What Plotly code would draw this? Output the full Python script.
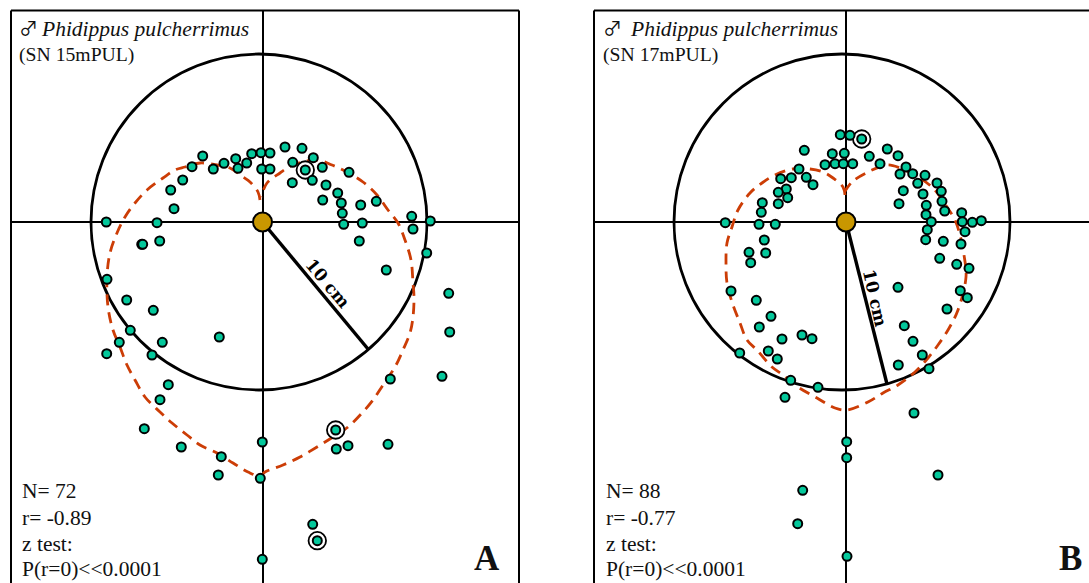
import plotly.graph_objects as go

# Offsets from the release point at the crossing of the axes (168 units = 10 cm circle radius)
a_x = [-59.8,-70.5,-79.8,-91.8,-88.5,-156.2,-105.5,-120.8,-119.8,-102.8,-155.5,-49.2,-38.5,-26.8,-24.5,-15.8,-10.8,-1.5,7.5,-0.8,7.5,22.5,39.5,50.8,30.2,42.8,59.8,49.8,29.8,63.5,86.5,75.2,60.2,78.8,98.2,113.8,79.8,81.2,99.8,149.2,167.8,150.5,96.8,164.2,123.8,-135.8,-109.2,-132.2,-43.2,-143.2,-100.2,-155.8,-110.5,-94.2,-102.5,-118.2,-81.2,-41.2,-44.2,-0.2,-2.2,-0.2,186.2,187.2,179.5,127.8,73.2,73.8,85.5,125.5,50.2,54.8]
a_y = [66,55.3,42,32,13.3,0,-0.7,-22.3,-22.3,-19,-57.3,53,58.7,63.3,53.7,59,68.3,69.3,69,53,53,75,73.7,64.3,59.7,52,54.7,41.7,39.3,37,49.7,29,22,19,17,20.7,8.7,-2.3,-1,5.7,1,-7,-19,-31,-48,-78,-88.3,-108.3,-115,-120.3,-120.3,-131.7,-133,-162.7,-177.7,-206.7,-225,-234.7,-253,-220,-256.3,-337.3,-71.3,-110,-154.3,-157,-208,-227,-223.7,-222.3,-302.3,-318.7]
a_ring_x = [42.8,73.2,54.8]
a_ring_y = [52,-208,-318.7]
a_curve_x = [-2.5,-4.5,-12.5,-19.5,-32.5,-45.5,-62.5,-77.5,-87.5,-99.5,-115.5,-127.5,-137.5,-145.5,-152.5,-155.5,-154.5,-149.5,-142.5,-135.5,-127.5,-117.5,-102.5,-90.5,-75.5,-62.5,-45.5,-29.5,-14.5,-2.5,2.5,20.5,37.5,54.5,70.5,85.5,99.5,110.5,120.5,132.5,140.5,147.5,150.5,151.5,150.5,148.5,142.5,135.5,125.5,114.5,100.5,84.5,69.5,54.5,30.5,17.5,4.5,-1.5]
a_curve_y = [22,30,40,45,54,57,59,55,52,44,32,19,5,-11,-31,-55,-85,-108,-125,-143,-158,-175,-190,-201,-213,-223,-231,-241,-250,-254,-250,-243,-235,-225,-215,-205,-191,-178,-163,-145,-128,-111,-95,-75,-61,-38,-18,-1,12,27,40,50,57,62,57,49,39,25]
a_radius_x = [0,105.5]
a_radius_y = [0,-127]

b_x = [-5.7,4,-41.7,-13.7,-1.7,-21,-11,-2.7,-47,-54.7,-65.3,-39.7,-33,-59.7,-67.7,-58.3,-67.7,-83.7,-84.7,-120.7,-87,-70.7,-81.7,-97,-80.3,-95.3,15.7,6.7,23.3,41.3,52,34,60,54,66.7,79,71.7,57.3,91,95.3,77,53,96,80.3,98.7,80,115.7,85.3,116.3,126.3,135.3,81.3,119,79.7,97.3,115,93.7,110.7,123,52,114.3,121.3,101,58.3,67,76.3,52.3,83,68,0.7,0.7,92,1,-115,-89.7,-75,-86.7,-44,-34,-64,-106.3,-77.7,-68.7,-55.3,-28,-61,-43.3,-48.3]
b_y = [87.3,86.7,71.7,68.3,68.7,57.3,58.3,58.3,53,44.3,43.3,44.7,37.3,33,29.7,24.3,18.3,19.3,9.7,-0.7,-2.3,-2.3,-18,-30.3,-31,-40.7,83,58.3,65.7,73,66.3,58.3,55,48,48.3,46.7,38.7,31.3,39,30.7,28,18.3,20.7,16.7,11,7.3,9.3,0.3,0.3,-0.3,1.3,-7.7,-9.7,-17.7,-19.3,-22,-36.3,-42.3,-46.3,-65.3,-68.7,-75.7,-87,-103.7,-119.3,-133,-143,-146.7,-191,-219.7,-235.7,-253,-334.3,-69,-78.3,-94.3,-105,-113,-116.7,-117,-131,-129,-137,-158.3,-165.3,-175.3,-268.3,-301.7]
b_ring_x = [15.7]
b_ring_y = [83]
b_curve_x = [-1,-3,-13,-23,-36,-53,-71,-84,-96,-108,-114,-119,-120,-119,-114,-106,-99,-89,-74,-63,-48,-29,-11,1,22,37,52,69,82,92,102,112,120,118,114,109,101,87,72,54,41,22,6,-2]
b_curve_y = [27,35,44,50,53,53,47,39,29,12,-5,-21,-41,-61,-80,-101,-118,-128,-145,-153,-165,-176,-186,-188,-180,-171,-163,-150,-136,-123,-108,-88,-55,-33,-13,2,15,34,45,54,57,50,40,29]
b_radius_x = [0,41]
b_radius_y = [0,-162]

title_species = "Phidippus pulcherrimus"
a_code = "(SN 15mPUL)"
b_code = "(SN 17mPUL)"
a_stats = ["N= 72", "r= -0.89", "z test:", "P(r=0)<<0.0001"]
b_stats = ["N= 88", "r= -0.77", "z test:", "P(r=0)<<0.0001"]

W, H = 1089, 583
SERIF = "Liberation Serif"
GREEN = "#04C89B"
RED = "#CC3D06"
GOLD = "#C99700"

fig = go.Figure()


def panel(suffix, x, y, cx, cy, radx, rady, ring_x, ring_y, circle_cx):
    xa, ya = "x" + suffix, "y" + suffix
    fig.add_trace(go.Scatter(x=radx, y=rady, mode="lines", xaxis=xa, yaxis=ya,
                             line=dict(color="black", width=3.4)))
    fig.add_trace(go.Scatter(x=cx, y=cy, mode="lines", xaxis=xa, yaxis=ya,
                             line=dict(color=RED, width=2.8, dash="11px,7px", shape="spline", smoothing=1)))
    fig.add_trace(go.Scatter(x=ring_x, y=ring_y, mode="markers", xaxis=xa, yaxis=ya,
                             marker=dict(size=17.5, color="white", line=dict(color="black", width=1.8))))
    fig.add_trace(go.Scatter(x=x, y=y, mode="markers", xaxis=xa, yaxis=ya,
                             marker=dict(size=9, color=GREEN, line=dict(color="black", width=2))))
    fig.add_trace(go.Scatter(x=[0], y=[0], mode="markers", xaxis=xa, yaxis=ya,
                             marker=dict(size=19, color=GOLD, line=dict(color="black", width=2))))
    fig.add_shape(type="circle", xref=xa, yref=ya, x0=circle_cx - 168, x1=circle_cx + 168,
                  y0=-168, y1=168, line=dict(color="black", width=2.8), layer="below")


panel("", a_x, a_y, a_curve_x, a_curve_y, a_radius_x, a_radius_y, a_ring_x, a_ring_y, -3.5)
panel("2", b_x, b_y, b_curve_x, b_curve_y, b_radius_x, b_radius_y, b_ring_x, b_ring_y, -4)

axis = dict(showgrid=False, showticklabels=False, ticks="", showline=False, zeroline=True,
            zerolinecolor="black", zerolinewidth=2)
ytop = (H - 10.5) / H
fig.update_layout(
    width=W, height=H, margin=dict(l=0, r=0, t=0, b=0), paper_bgcolor="white", plot_bgcolor="white",
    showlegend=False, hovermode=False,
    xaxis=dict(domain=[11 / W, 519 / W], range=[-251.5, 256.5], **axis),
    yaxis=dict(domain=[0, ytop], range=[-361, 211.5], **axis),
    xaxis2=dict(domain=[594 / W, 1], range=[-252, 243], anchor="y2", **axis),
    yaxis2=dict(domain=[0, ytop], range=[-361, 211.5], anchor="x2", **axis),
)

# Frame: left, top and right edges only; the bottom is cut off by the image
for xa, ya, sides in (("x", "y", ((0, 0, 0, 1), (0, 1, 1, 1), (1, 0, 1, 1))),
                      ("x2", "y2", ((0, 0, 0, 1), (0, 1, 1, 1)))):
    for x0, y0, x1, y1 in sides:
        fig.add_shape(type="line", xref=xa + " domain", yref=ya + " domain", x0=x0, y0=y0, x1=x1, y1=y1,
                      line=dict(color="black", width=2))


def text(s, px, py, size, anchor="left", **kw):
    fig.add_annotation(text=s, x=px / W, y=1 - py / H, xref="paper", yref="paper", xanchor=anchor,
                       yanchor="middle", showarrow=False,
                       font=dict(family=kw.pop("family", SERIF), size=size, color="#111111"), **kw)


for left, title_dx, code, stats, letter, lx in ((17, 22, a_code, a_stats, "A", 487),
                                                (601, 27, b_code, b_stats, "B", 1070)):
    text("♂", left, 27, 19, family="Noto Sans CJK JP")
    text(f"<i>{title_species}</i>", left + title_dx, 29, 21.5)
    text(code, left, 55, 19.7)
    for s, py in zip(stats, (491, 518, 544, 569)):
        text(s, left + 3, py, 21.5)
    text(f"<b>{letter}</b>", lx, 558, 35, anchor="center")

fig.add_annotation(text="<b>10 cm</b>", x=65, y=-61, xref="x", yref="y", showarrow=False, textangle=50,
                   font=dict(family="DejaVu Serif", size=17, color="black"))
fig.add_annotation(text="<b>10 cm</b>", x=29, y=-76, xref="x2", yref="y2", showarrow=False, textangle=77,
                   font=dict(family="DejaVu Serif", size=17, color="black"))

fig.write_html("out.html", config={"displayModeBar": False}, post_script="document.body.style.margin='0';")
